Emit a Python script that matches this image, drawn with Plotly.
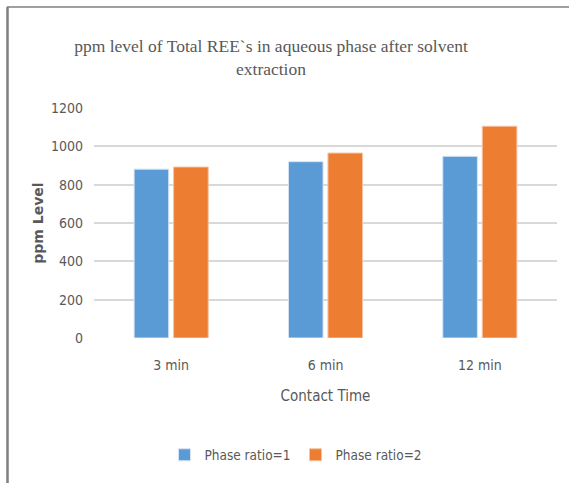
import plotly.graph_objects as go

# Contact time categories and total REE concentration (ppm) in the aqueous phase
categories = ["3 min", "6 min", "12 min"]
phase_ratio_1 = [881, 920, 948]
phase_ratio_2 = [892, 965, 1105]
y_ticks = [0, 200, 400, 600, 800, 1000, 1200]

W, H = 569, 483
L, R, T, B = 94, 12, 108, 145
pw, ph = W - L - R, H - T - B

def px_x(x):
    return (x - L) / pw

def px_y(y):
    return (H - B - y) / ph

NARROW = "DejaVu Sans Condensed, Liberation Sans Narrow, sans-serif"
label_font = dict(family=NARROW, size=14, color="#595959")

fig = go.Figure()
fig.add_trace(go.Bar(
    name="Phase ratio=1", x=categories, y=phase_ratio_1,
    marker=dict(color="#5B9BD5", line=dict(color="#D6E4F3", width=1)),
))
fig.add_trace(go.Bar(
    name="Phase ratio=2", x=categories, y=phase_ratio_2,
    marker=dict(color="#ED7D31", line=dict(color="#F6C3A2", width=1)),
))

fig.update_layout(
    width=W, height=H,
    margin=dict(l=L, r=R, t=T, b=B),
    paper_bgcolor="white", plot_bgcolor="white",
    barmode="group", bargap=0.488, bargroupgap=0.124,
    title=dict(
        text="ppm level of Total REE`s in aqueous phase after solvent<br>extraction",
        font=dict(family="Liberation Serif, Times New Roman, serif", size=17.5, color="#595959"),
        x=271 / W, xanchor="center", xref="container",
        y=1 - 52 / H, yanchor="middle", yref="container",
    ),
    xaxis=dict(
        showgrid=False, showline=False, zeroline=False, ticks="",
        tickfont=label_font, ticklabelstandoff=17,
        title=dict(text="Contact Time",
                   font=dict(family=NARROW, size=15, color="#595959"),
                   standoff=18),
    ),
    yaxis=dict(
        range=[0, 1200], tickvals=y_ticks,
        showgrid=True, gridcolor="#D9D9D9", gridwidth=1.5,
        zeroline=False, showline=False, ticks="",
        tickfont=label_font, ticklabelstandoff=10,
        title=dict(text="<b>ppm Level</b>",
                   font=dict(family="DejaVu Sans, Open Sans, sans-serif", size=14, color="#595959"),
                   standoff=4),
    ),
    legend=dict(
        orientation="h", x=px_x(296), xanchor="center", y=px_y(455), yanchor="middle",
        font=dict(family=NARROW, size=13.5, color="#595959"),
        itemwidth=30, traceorder="normal",
    ),
    showlegend=True,
)

# Frame lines along the top and left edges of the image
fig.add_shape(type="line", xref="paper", yref="paper",
              x0=px_x(7), x1=px_x(W + 2), y0=px_y(7), y1=px_y(7),
              line=dict(color="#7F7F7F", width=1.5))
fig.add_shape(type="line", xref="paper", yref="paper",
              x0=px_x(7.5), x1=px_x(7.5), y0=px_y(7), y1=px_y(H + 2),
              line=dict(color="#7F7F7F", width=2.5))

fig.write_html("out.html")
